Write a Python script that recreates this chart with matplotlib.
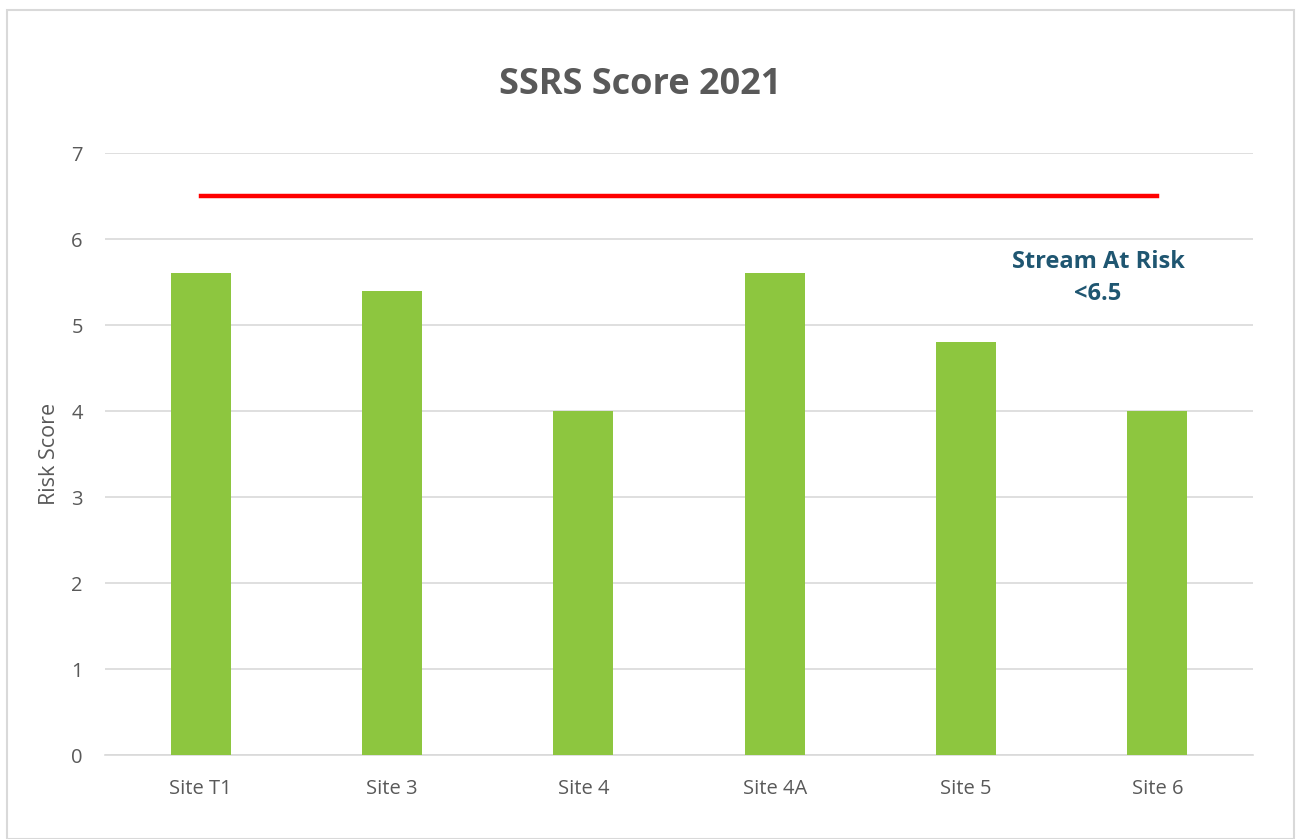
import matplotlib.pyplot as plt
from matplotlib.patches import Rectangle

plt.rcParams['font.family'] = ['Open Sans', 'DejaVu Sans']

# data
sites = ["Site T1", "Site 3", "Site 4", "Site 4A", "Site 5", "Site 6"]
scores = [5.6, 5.4, 4.0, 5.6, 4.8, 4.0]
threshold = 6.5
y_ticks = [0, 1, 2, 3, 4, 5, 6, 7]

grey = "#595959"

fig = plt.figure(figsize=(13.01, 8.39), dpi=100)
# light border round the chart area
fig.patches.append(Rectangle((7 / 1301, 0.0), 1 - 14 / 1301, 1 - 10 / 839,
                             transform=fig.transFigure, fill=False,
                             edgecolor="#d9d9d9", linewidth=1.5))

ax = fig.add_axes([105 / 1301, 0.1001, (1253 - 105) / 1301, 0.7175])

x = list(range(len(sites)))
ax.bar(x, scores, width=0.315, color="#8dc63f", zorder=3)
ax.plot([x[0], x[-1]], [threshold, threshold], color="#ff0000", linewidth=3.2, zorder=4)

ax.text(4.69, 5.55, "Stream At Risk\n<6.5", ha="center", va="center",
        fontsize=17, fontweight="bold", color="#1f5671", linespacing=1.45)

ax.set_xlim(-0.5, len(sites) - 0.5)
ax.set_ylim(0, 7)
ax.set_yticks(y_ticks)
ax.set_xticks(x)
ax.set_xticklabels(sites)
ax.grid(axis="y", color="#d9d9d9", linewidth=1.2, zorder=0)
ax.tick_params(axis="both", length=0, labelsize=14.5, labelcolor=grey)
ax.tick_params(axis="x", pad=17)
ax.tick_params(axis="y", pad=16)
for s in ["top", "right", "left"]:
    ax.spines[s].set_visible(False)
ax.spines["bottom"].set_color("#d9d9d9")
ax.spines["bottom"].set_linewidth(1.2)

ax.set_ylabel("Risk Score", fontsize=15.5, color=grey, labelpad=8)
fig.text(0.492, 0.899, "SSRS Score 2021", ha="center", va="center",
         fontsize=26, fontweight="bold", color=grey)

fig.savefig("out.png", dpi=100)
